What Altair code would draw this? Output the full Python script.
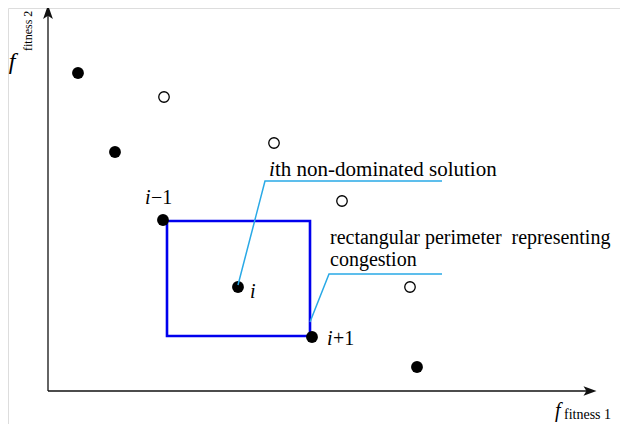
import altair as alt
import pandas as pd

# ---- data (f1, f2 in diagram units; origin at the axes' corner) ----
filled_f1 = [30, 67, 115, 190, 264, 369]
filled_f2 = [318, 239, 171, 104, 54, 24]
open_f1 = [116, 226, 294, 362]
open_f2 = [294, 248, 190, 104]

rect_x1, rect_x2 = [119], [262]
rect_y1, rect_y2 = [55], [170]

lead_group = ["a", "a", "a", "b", "b", "b"]
lead_seq = [0, 1, 2, 0, 1, 2]
lead_f1 = [190, 217, 394, 262, 281, 394]
lead_f2 = [106, 210, 210, 69, 117, 117]

axis_group = ["v", "v", "h", "h"]
axis_seq = [0, 1, 0, 1]
axis_f1 = [0, 0, 0, 542]
axis_f2 = [0, 378, 0, 0]

ital_text = ["i", "i", "i", "i", "f"]
ital_f1 = [221, 97, 202, 279, 507]
ital_f2 = [215, 187, 93, 46, -26]
ital_size = [21, 20, 20, 20, 20]

norm_text = ["th non-dominated solution", "rectangular perimeter\u00a0 representing",
             "congestion", "\u22121", "+1", "fitness 1"]
norm_f1 = [227, 282, 282, 103, 285, 516]
norm_f2 = [215, 147, 125, 187, 46, -28]
norm_size = [21, 20, 20, 20, 20, 14]

vf_text = ["f"]
vf_f1 = [-36]
vf_f2 = [322]

vlab_text = ["fitness 2"]
vlab_f1 = [-16]
vlab_f2 = [340]

# ---- scales (1 unit = 1 px) ----
xs = alt.Scale(domain=[-40, 572], nice=False, zero=False)
ys = alt.Scale(domain=[-33, 383], nice=False, zero=False)
X = lambda f="f1": alt.X(f"{f}:Q", scale=xs, axis=None)
Y = lambda f="f2": alt.Y(f"{f}:Q", scale=ys, axis=None)
FONT = "Liberation Serif"

axes = alt.Chart(pd.DataFrame({"g": axis_group, "s": axis_seq, "f1": axis_f1, "f2": axis_f2})).mark_line(
    color="#111111", strokeWidth=1.3
).encode(x=X(), y=Y(), detail="g:N", order="s:Q")

arrow_up = alt.Chart(pd.DataFrame({"f1": [0], "f2": [379]})).mark_point(
    shape="M0,-1L0.7,1L0,0.55L-0.7,1Z", size=196, filled=True, color="#111111", opacity=1
).encode(x=X(), y=Y())

arrow_right = alt.Chart(pd.DataFrame({"f1": [542], "f2": [0]})).mark_point(
    shape="M1,0L-1,-0.72L-0.55,0L-1,0.72Z", size=169, filled=True, color="#111111", opacity=1
).encode(x=X(), y=Y())

rect = alt.Chart(pd.DataFrame({"x1": rect_x1, "x2": rect_x2, "y1": rect_y1, "y2": rect_y2})).mark_rect(
    filled=False, color="#0000ee", strokeWidth=2.6
).encode(x=X("x1"), x2="x2:Q", y=Y("y1"), y2="y2:Q")

filled = alt.Chart(pd.DataFrame({"f1": filled_f1, "f2": filled_f2})).mark_circle(
    size=140, color="#000000", opacity=1
).encode(x=X(), y=Y())

opens = alt.Chart(pd.DataFrame({"f1": open_f1, "f2": open_f2})).mark_point(
    shape="circle", size=110, filled=False, color="#000000", strokeWidth=1.3, opacity=1
).encode(x=X(), y=Y())

leaders = alt.Chart(pd.DataFrame({"g": lead_group, "s": lead_seq, "f1": lead_f1, "f2": lead_f2})).mark_line(
    color="#29a9e6", strokeWidth=1.5
).encode(x=X(), y=Y(), detail="g:N", order="s:Q")

ital = alt.Chart(pd.DataFrame({"t": ital_text, "f1": ital_f1, "f2": ital_f2, "sz": ital_size})).mark_text(
    font=FONT, fontStyle="italic", align="left", baseline="alphabetic", color="#000000"
).encode(x=X(), y=Y(), text="t:N", size=alt.Size("sz:Q", scale=None, legend=None))

norm = alt.Chart(pd.DataFrame({"t": norm_text, "f1": norm_f1, "f2": norm_f2, "sz": norm_size})).mark_text(
    font=FONT, align="left", baseline="alphabetic", color="#000000"
).encode(x=X(), y=Y(), text="t:N", size=alt.Size("sz:Q", scale=None, legend=None))

vf = alt.Chart(pd.DataFrame({"t": vf_text, "f1": vf_f1, "f2": vf_f2})).mark_text(
    font=FONT, fontStyle="italic", align="center", baseline="alphabetic", fontSize=24, color="#000000"
).encode(x=X(), y=Y(), text="t:N")

vlab = alt.Chart(pd.DataFrame({"t": vlab_text, "f1": vlab_f1, "f2": vlab_f2})).mark_text(
    font=FONT, align="left", baseline="alphabetic", fontSize=12, angle=270, color="#000000"
).encode(x=X(), y=Y(), text="t:N")

chart = alt.layer(
    axes, arrow_up, arrow_right, rect, filled, opens, leaders, ital, norm, vf, vlab
).properties(
    width=612, height=416, padding=0, autosize=alt.AutoSizeParams(type="none")
).configure_view(stroke=None).configure(background="white")

chart.save("out.html", embed_options={"renderer": "svg", "actions": False})
